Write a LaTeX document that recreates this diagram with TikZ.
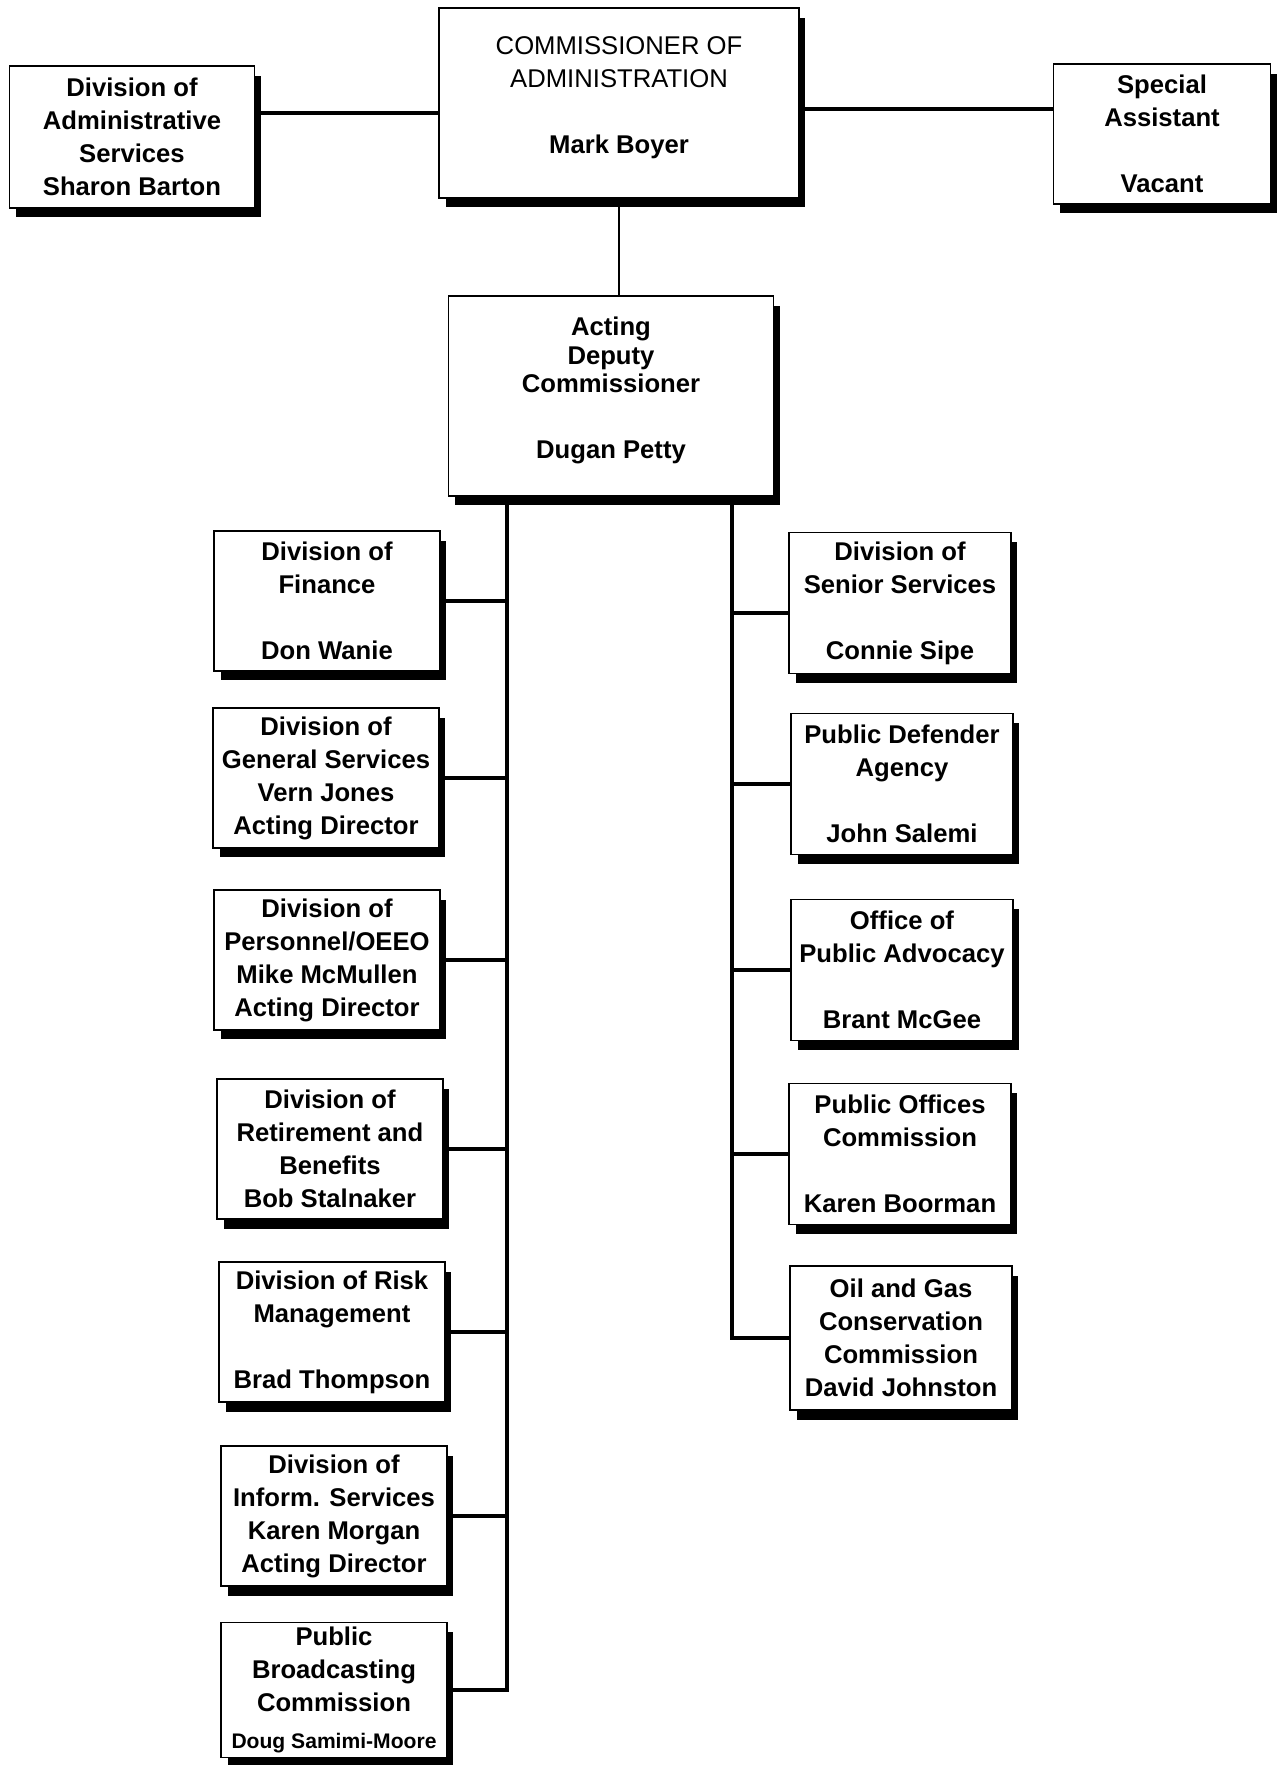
\documentclass[tikz,border=0pt]{standalone}
\usepackage{fontspec}
\setmainfont{Liberation Sans}
\usetikzlibrary{shadows}

\begin{document}
\begin{tikzpicture}[x=0.02cm, y=-0.02cm,
    unit/.style={draw, fill=white, line width=1pt, align=center, inner sep=1pt,
        font=\fontsize{14.6}{18.8}\selectfont\bfseries,
        drop shadow={shadow xshift=0.13cm, shadow yshift=-0.19cm, fill=black, opacity=1}},
    lbox/.style={unit, minimum width=4.52cm, minimum height=2.8cm},
    rbox/.style={unit, minimum width=4.44cm, minimum height=2.82cm},
    link/.style={line width=2pt}]

    \useasboundingbox (0,0) rectangle (1279,1765);

    % top row
    \node[unit, minimum width=7.2cm, minimum height=3.8cm] (comm) at (619,103)
        {{\mdseries COMMISSIONER OF}\\{\mdseries ADMINISTRATION}\\[18.8pt]Mark Boyer\\[-9.5pt]\mbox{}};
    \node[unit, minimum width=4.9cm, minimum height=2.84cm] (admin) at (132,137)
        {Division of\\Administrative\\Services\\Sharon Barton};
    \node[unit, minimum width=4.34cm, minimum height=2.8cm] (special) at (1162,134)
        {Special\\Assistant\\[18.8pt]Vacant};

    \node[unit, minimum width=6.5cm, minimum height=4cm] (deputy) at (611,396)
        {Acting\\[-2.5pt]Deputy\\[-2.5pt]Commissioner\\[18.8pt]Dugan Petty\\[-9.5pt]\mbox{}};

    % left column
    \node[lbox] (fin) at (327,601) {Division of\\Finance\\[18.8pt]Don Wanie};
    \node[lbox] (gen) at (326,778) {Division of\\General Services\\Vern Jones\\Acting Director};
    \node[lbox] (pers) at (327,960) {Division of\\Personnel/OEEO\\Mike McMullen\\Acting Director};
    \node[lbox] (ret) at (330,1149) {Division of\\Retirement and\\Benefits\\Bob Stalnaker};
    \node[lbox] (risk) at (332,1332) {Division of Risk\\Management\\[18.8pt]Brad Thompson};
    \node[lbox] (inform) at (334,1516) {Division of\\Inform. Services\\Karen Morgan\\Acting Director};
    \node[lbox, minimum height=2.7cm] (pbc) at (334,1690)
        {Public\\Broadcasting\\Commission\\[2pt]{\fontsize{12}{14}\selectfont Doug Samimi-Moore}};

    % right column
    \node[rbox] (senior) at (900,603) {Division of\\Senior Services\\[18.8pt]Connie Sipe};
    \node[rbox] (defender) at (902,784) {Public Defender\\Agency\\[18.8pt]John Salemi};
    \node[rbox] (advocacy) at (902,970) {Office of\\Public Advocacy\\[18.8pt]Brant McGee};
    \node[rbox] (offices) at (900,1154) {Public Offices\\Commission\\[18.8pt]Karen Boorman};
    \node[rbox, minimum height=2.88cm] (oil) at (901,1338)
        {Oil and Gas\\Conservation\\Commission\\David Johnston};

    \coordinate (lt) at (507,500);
    \coordinate (rt) at (732,500);

    \draw[link] (admin.11.5) -- (admin.11.5 -| comm.west);
    \draw[link] (special.167) -- (special.167 -| comm.east);
    \draw[line width=1.3pt] (comm.south) -- (deputy.north -| comm.south);

    \draw[link] (lt) |- (pbc.east);
    \foreach \n in {fin,gen,pers,ret,risk,inform}
        \draw[link] (\n.east) -- (\n.east -| lt);

    \draw[link] (rt) |- (oil.west);
    \draw[link] (senior.185) -- (senior.185 -| rt);
    \foreach \n in {defender,advocacy,offices}
        \draw[link] (\n.west) -- (\n.west -| rt);

\end{tikzpicture}
\end{document}
